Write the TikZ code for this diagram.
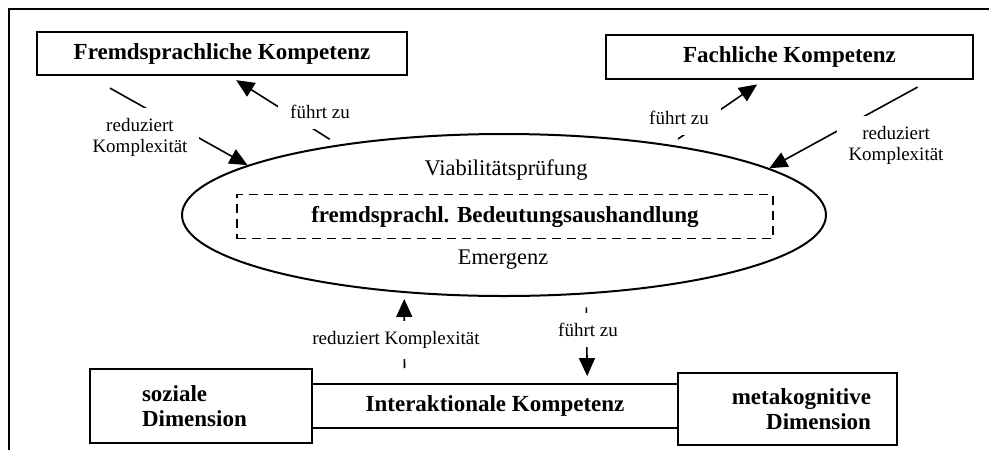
\documentclass[tikz,border=0pt]{standalone}
\usepackage{fontspec}
\setmainfont{Liberation Serif}
\usepackage{tikz}
\usetikzlibrary{shapes}
\usetikzlibrary{arrows.meta}
\usetikzlibrary{positioning}
\usetikzlibrary{calc}

\begin{document}
\begin{tikzpicture}[
  x=0.5pt, y=-0.5pt,
  dep/.style ={
    -{Triangle[length=9pt,width=8pt]}, line width=0.8pt
  },
  komp/.style 2 args={
    rectangle,
    draw,
    line width=0.9pt,
    minimum width=#1,
    minimum height=#2,
    inner sep=0pt,
    font=\fontsize{11.5}{12.5}\selectfont\bfseries},
  lbl/.style={
    fill=white,
    align=center,
    inner xsep=6pt,
    inner ysep=5pt,
    font=\fontsize{9.5}{10.5}\selectfont},
  txt/.style={
    inner sep=0pt,
    font=\fontsize{11.2}{12.5}\selectfont},
]

  \useasboundingbox (0,0) rectangle (989,450);

  % Frame
  \draw[line width=0.6pt] (9,450) -- (9,9) -- (989,9);

  % Competences at the top
  \node[komp={185pt}{21.5pt}] (fremd) at (222,53.5) {Fremdsprachliche Kompetenz};
  \node[komp={183.5pt}{22pt}] (fach) at (789.5,57) {Fachliche Kompetenz};

  % Negotiation of meaning
  \node[ellipse, draw, line width=1pt, inner sep=0pt,
        minimum width=322pt, minimum height=81pt] (ell) at (504,215) {};
  \node[txt] (viab) at (506,170) {Viabilitätsprüfung};
  \node[komp={268pt}{22pt}, dashed, dash pattern=on 4.5pt off 3pt,
        line width=0.8pt] (bed) at (505,216.5)
        {fremdsprachl. Bedeutungsaushandlung};
  \node[txt] (emerg) at (503,260) {Emergenz};

  % Interactional competence and its dimensions
  \node[komp={183pt}{22pt}] (inter) at (495,406) {Interaktionale Kompetenz};
  \node[komp={111pt}{37pt}, align=left, text width=59pt,
        inner xsep=26pt] (sozial) at (201,406) {soziale\\Dimension};
  \node[komp={109.5pt}{36pt}, align=right, text width=83.5pt,
        inner xsep=13pt] (meta) at (787.5,409) {metakognitive\\Dimension};

  % Connectors
  \draw[dep, shorten <=12.5pt]
      ($(fremd.south west)!0.14!(fremd.south east)$) -- (ell.169);
  \draw[dep, shorten <=5pt, shorten >=4pt]
      (ell.157) -- ($(fremd.south west)!0.52!(fremd.south east)$);
  \draw[dep, shorten <=5pt, shorten >=4pt]
      (ell.23) -- ($(fach.south west)!0.43!(fach.south east)$);
  \draw[dep, shorten <=7.5pt]
      ($(fach.south west)!0.883!(fach.south east)$) -- (ell.10);
  \draw[dep, shorten <=7.5pt, shorten >=3pt]
      ($(inter.north west)!0.254!(inter.north east)$) -- (ell.218);
  \draw[dep, shorten <=6.5pt, shorten >=3.5pt]
      (ell.316) -- ($(inter.north west)!0.751!(inter.north east)$);

  % Labels
  \node[lbl] (redfremd) at (140,137) {reduziert\\Komplexität};
  \node[lbl] (fuehrtfremd) at (320,112) {führt zu};
  \node[lbl] (fuehrtfach) at (679,118) {führt zu};
  \node[lbl] (redfach) at (896,145) {reduziert\\Komplexität};
  \node[lbl] (redinter) at (396,340) {reduziert Komplexität};
  \node[lbl] (fuehrtinter) at (588,330) {führt zu};

\end{tikzpicture}
\end{document}
